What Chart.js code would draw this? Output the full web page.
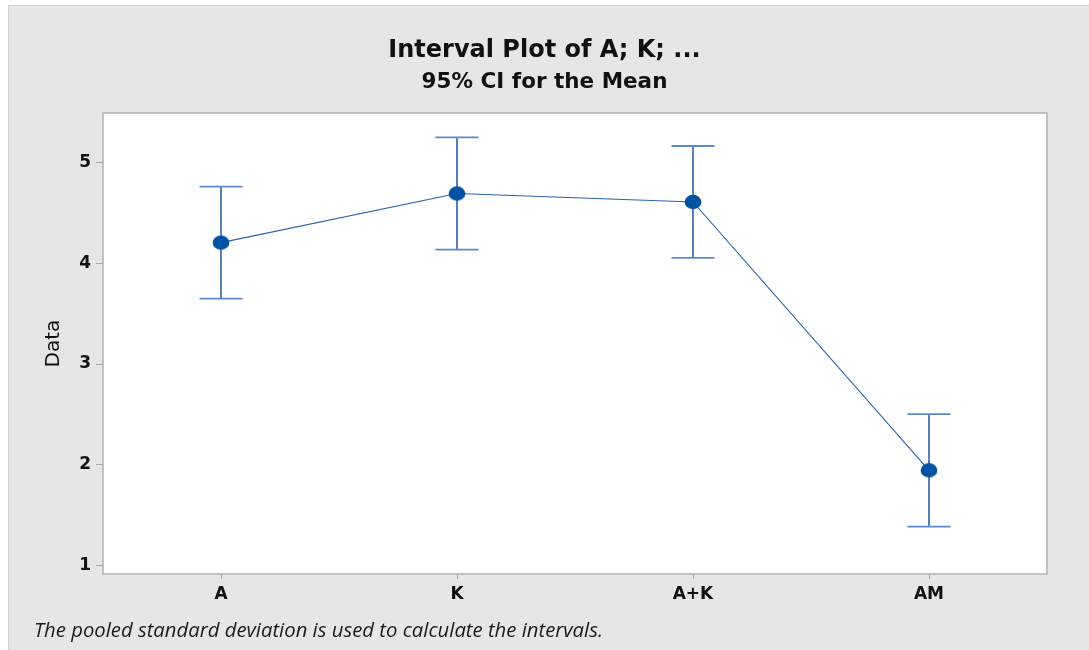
<!DOCTYPE html>
<html>
<head>
<meta charset="utf-8">
<script src="https://cdn.jsdelivr.net/npm/chart.js@4.4.0/dist/chart.umd.min.js"></script>
<style>
  html, body { margin: 0; padding: 0; background: #ffffff; }
  #wrap { width: 1089px; height: 650px; position: relative; }
</style>
</head>
<body>
<div id="wrap"><canvas id="c" width="1089" height="650"></canvas></div>
<script>
// ---- data ----
const categories = ['A', 'K', 'A+K', 'AM'];
const means = [4.206, 4.694, 4.61, 1.944];
const upperCI = [4.762, 5.252, 5.166, 2.502];
const lowerCI = [3.649, 4.136, 4.054, 1.385];
const yTicks = [1, 2, 3, 4, 5];
const titleText = 'Interval Plot of A; K; ...';
const subtitleText = '95% CI for the Mean';
const yTitle = 'Data';
const footnote = 'The pooled standard deviation is used to calculate the intervals.';

const FONT = "'DejaVu Sans', 'Open Sans', sans-serif";
const FOOT_FONT = "'Open Sans', 'Noto Sans', sans-serif";
const BLUE = '#2862ad';

// ellipse marker
const marker = document.createElement('canvas');
marker.width = 18; marker.height = 16;
(function () {
  const m = marker.getContext('2d');
  m.fillStyle = '#0052a3';
  m.beginPath();
  m.ellipse(9, 8, 8.4, 7.2, 0, 0, Math.PI * 2);
  m.fill();
})();

const backgroundPlugin = {
  id: 'bgPanel',
  beforeDraw(chart) {
    const ctx = chart.ctx;
    const a = chart.chartArea;
    ctx.save();
    ctx.fillStyle = '#ffffff';
    ctx.fillRect(0, 0, chart.width, chart.height);
    ctx.fillStyle = '#e6e6e6';
    ctx.fillRect(8, 5, chart.width - 8, chart.height - 5);
    ctx.strokeStyle = '#d2d2d2';
    ctx.lineWidth = 1;
    ctx.beginPath();
    ctx.moveTo(8.5, chart.height);
    ctx.lineTo(8.5, 5.5);
    ctx.lineTo(chart.width, 5.5);
    ctx.stroke();
    ctx.fillStyle = '#ffffff';
    ctx.fillRect(a.left, a.top, a.right - a.left, a.bottom - a.top);
    ctx.restore();
  },
  afterDraw(chart) {
    const ctx = chart.ctx;
    const a = chart.chartArea;
    ctx.save();
    ctx.strokeStyle = '#b3b3b3';
    ctx.lineWidth = 1.5;
    ctx.strokeRect(a.left, a.top, a.right - a.left, a.bottom - a.top);
    ctx.fillStyle = '#1a1a1a';
    ctx.font = "italic 20.3px " + FOOT_FONT;
    ctx.textBaseline = 'middle';
    ctx.textAlign = 'left';
    ctx.fillText(footnote, 34, 631);
    ctx.restore();
  }
};

const errorBarPlugin = {
  id: 'errorBars',
  beforeDatasetsDraw(chart) {
    const ctx = chart.ctx;
    const xs = chart.scales.x, ys = chart.scales.y;
    ctx.save();
    for (let i = 0; i < categories.length; i++) {
      const x = xs.getPixelForValue(i);
      const yu = ys.getPixelForValue(upperCI[i]);
      const yl = ys.getPixelForValue(lowerCI[i]);
      ctx.strokeStyle = BLUE;
      ctx.lineWidth = 1.6;
      ctx.beginPath();
      ctx.moveTo(x, yu);
      ctx.lineTo(x, yl);
      ctx.stroke();
      ctx.strokeStyle = '#5a8bc9';
      ctx.lineWidth = 1.8;
      ctx.beginPath();
      ctx.moveTo(x - 21.5, yu);
      ctx.lineTo(x + 21.5, yu);
      ctx.moveTo(x - 21.5, yl);
      ctx.lineTo(x + 21.5, yl);
      ctx.stroke();
    }
    ctx.restore();
  }
};

new Chart(document.getElementById('c'), {
  type: 'line',
  data: {
    labels: categories,
    datasets: [{
      data: means,
      borderColor: BLUE,
      borderWidth: 1.1,
      pointStyle: marker,
      pointRadius: 8,
      pointHoverRadius: 8,
      fill: false,
      tension: 0
    }]
  },
  options: {
    responsive: false,
    animation: false,
    devicePixelRatio: 1,
    events: [],
    layout: { padding: { left: 0, right: 0, top: 0, bottom: 0 } },
    plugins: {
      legend: { display: false },
      tooltip: { enabled: false },
      title: {
        display: true,
        text: titleText,
        color: '#111111',
        font: { family: FONT, size: 24, weight: 'bold' },
        padding: { top: 36, bottom: 0 }
      },
      subtitle: {
        display: true,
        text: subtitleText,
        color: '#111111',
        font: { family: FONT, size: 21.5, weight: 'bold' },
        padding: { top: 4.5, bottom: 17.9 }
      }
    },
    scales: {
      x: {
        type: 'category',
        offset: true,
        afterFit(s) { s.height = 76; },
        grid: { drawOnChartArea: false, drawTicks: true, tickLength: 5, color: '#a9a9a9', offset: false },
        border: { display: false },
        ticks: { color: '#111111', padding: 5, font: { family: FONT, size: 17, weight: 'bold' } }
      },
      y: {
        type: 'linear',
        min: 0.914,
        max: 5.494,
        afterBuildTicks(s) { s.ticks = yTicks.map(v => ({ value: v })); },
        afterFit(s) { s.width = 103; },
        grid: { drawOnChartArea: false, drawTicks: true, tickLength: 7, color: '#a9a9a9' },
        border: { display: false },
        ticks: { color: '#111111', padding: 5, font: { family: FONT, size: 17, weight: 'bold' } },
        title: {
          display: true,
          text: yTitle,
          color: '#111111',
          font: { family: FONT, size: 20, weight: 'normal' },
          padding: { top: 42, bottom: 0 }
        }
      },
      yRight: {
        type: 'linear',
        position: 'right',
        display: true,
        min: 0.914,
        max: 5.494,
        afterFit(s) { s.width = 42; },
        grid: { display: false, drawTicks: false },
        border: { display: false },
        ticks: { display: false }
      }
    }
  },
  plugins: [backgroundPlugin, errorBarPlugin]
});
</script>
</body>
</html>
